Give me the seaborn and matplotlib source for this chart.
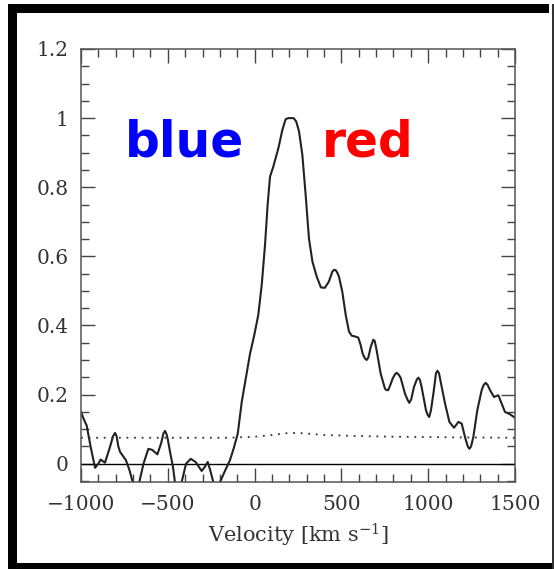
import matplotlib
matplotlib.use("Agg")
import matplotlib.pyplot as plt
from matplotlib.patches import Rectangle
from matplotlib.ticker import MultipleLocator
import seaborn as sns
import pandas as pd

# ---- data ----
velocity = [-1000, -985, -967, -945, -919, -900, -887, -862, -835, -815, -804, -795, -785, -775,
            -755, -741, -720, -702, -685, -672, -664, -640, -612, -590, -560, -538,
            -525, -516, -507, -500, -487, -470, -459, -440, -428, -420, -395, -368, -340, -320,
            -305, -288, -270, -255, -238, -220, -205, -199, -170, -142, -120, -97,
            -74, -51, -26, -2, 21, 41, 60, 75, 89, 98, 108, 137, 160, 179, 195, 210, 225,
            240, 256, 275, 294, 313, 333, 358, 382, 405, 428, 448, 458, 467, 476, 486, 505, 525,
            544, 560, 573, 597, 610, 622, 635, 645, 655, 669, 684, 692, 703, 726, 751, 760, 770, 782, 795, 808, 818,
            828, 841, 866, 880, 891, 902, 918, 934, 943, 952, 962, 987, 996, 1006, 1016, 1030, 1045, 1053, 1062, 1072, 1097, 1122,
            1149, 1174, 1193, 1212, 1228, 1237, 1247, 1260, 1283, 1308, 1320, 1331, 1342, 1356, 1379, 1404,
            1423, 1442, 1471, 1500]
flux = [0.15, 0.13, 0.11, 0.05, -0.012, 0.0, 0.012, 0.003, 0.045, 0.08, 0.089, 0.08, 0.05, 0.034,
        0.02, 0.01, -0.02, -0.053, -0.085, -0.07, -0.053, 0.0, 0.043, 0.04, 0.027, 0.06,
        0.088, 0.095, 0.085, 0.07, 0.034, -0.01, -0.053, -0.09, -0.07, -0.053, 0.0, 0.014, 0.005, -0.01,
        -0.021, -0.01, 0.005, -0.02, -0.053, -0.08, -0.065, -0.053, -0.02, 0.01, 0.045, 0.087,
        0.179, 0.246, 0.319, 0.372, 0.43, 0.517, 0.633, 0.749, 0.831, 0.845, 0.86, 0.913, 0.966, 0.997, 1.0, 1.0, 1.0,
        0.99, 0.961, 0.894, 0.778, 0.652, 0.585, 0.541, 0.51, 0.509, 0.527, 0.556, 0.561, 0.56, 0.553, 0.541, 0.498, 0.43,
        0.382, 0.37, 0.369, 0.365, 0.345, 0.319, 0.305, 0.3, 0.307, 0.338, 0.359, 0.355, 0.328, 0.261, 0.217, 0.213, 0.213, 0.228, 0.246, 0.258, 0.263,
        0.259, 0.249, 0.203, 0.186, 0.176, 0.186, 0.222, 0.243, 0.249, 0.243, 0.222, 0.155, 0.142, 0.135, 0.155, 0.203, 0.262, 0.269, 0.262, 0.237, 0.174, 0.121,
        0.104, 0.121, 0.116, 0.077, 0.05, 0.043, 0.05, 0.077, 0.155, 0.213, 0.228, 0.234, 0.228, 0.213, 0.193, 0.198,
        0.174, 0.15, 0.143, 0.133]

noise_velocity = [-1000, -500, -150, 0, 100, 200, 280, 400, 600, 800, 1000, 1200, 1500]
noise_level = [0.075, 0.075, 0.075, 0.078, 0.083, 0.089, 0.088, 0.083, 0.080, 0.078, 0.077, 0.076, 0.075]

xticks = [-1000, -500, 0, 500, 1000, 1500]
yticks = [0, 0.2, 0.4, 0.6, 0.8, 1.0, 1.2]
ytick_labels = ["0", "0.2", "0.4", "0.6", "0.8", "1", "1.2"]

W, H = 554, 569

sns.set_style("ticks")
plt.rcParams["mathtext.fontset"] = "dejavuserif"
plt.rcParams["font.family"] = ["DejaVu Serif"]

fig = plt.figure(figsize=(W / 100, H / 100), dpi=100)
ax = fig.add_axes([81 / W, 1 - 482 / H, 434 / W, 433 / H])

spectrum = pd.DataFrame({"v": velocity, "f": flux})
noise = pd.DataFrame({"v": noise_velocity, "f": noise_level})

sns.lineplot(data=spectrum, x="v", y="f", ax=ax, color="#222222", lw=1.5,
             estimator=None, sort=False, solid_joinstyle="round", solid_capstyle="round")
sns.lineplot(data=noise, x="v", y="f", ax=ax, color="#333333", lw=1.3,
             estimator=None, sort=False, linestyle=(0, (1, 3.2)))
ax.axhline(0, color="black", lw=1.0, zorder=1)

ax.set_xlim(-1000, 1500)
ax.set_ylim(-0.053, 1.2)
ax.set_xticks(xticks)
ax.set_xticklabels([f"{t}".replace("-", "\u2212") for t in xticks])
ax.set_yticks(yticks)
ax.set_yticklabels(ytick_labels)
ax.xaxis.set_minor_locator(MultipleLocator(100))
ax.yaxis.set_minor_locator(MultipleLocator(0.05))
ax.tick_params(which="both", direction="in", top=True, right=True,
               color="#444444", width=1.0)
ax.tick_params(which="major", length=10, labelsize=14.5, labelcolor="#333333", pad=9)
ax.tick_params(which="minor", length=6)
for s in ax.spines.values():
    s.set_color("#555555")
    s.set_linewidth(1.1)
ax.set_xlabel("Velocity [km s$^{-1}$]", fontsize=15, color="#333333", labelpad=6)
ax.set_ylabel("")

ax.text(-404, 0.888, "blue", color="#0000ff", fontsize=35, fontweight="bold",
        family="DejaVu Sans", ha="center", va="baseline")
ax.text(653, 0.888, "red", color="#ff0000", fontsize=35, fontweight="bold",
        family="DejaVu Sans", ha="center", va="baseline")

# outer frame
def frame_rect(x0, y0, x1, y1, color="black"):
    fig.add_artist(Rectangle((x0 / W, 1 - y1 / H), (x1 - x0) / W, (y1 - y0) / H,
                             transform=fig.transFigure, facecolor=color,
                             edgecolor="none", zorder=10))

frame_rect(8, 4, 17, 569)
frame_rect(8, 4, 549, 13)
frame_rect(8, 563, 554, 569)
frame_rect(552, 4, 553.5, 569, color="#333333")

fig.savefig("out.png", dpi=100)
